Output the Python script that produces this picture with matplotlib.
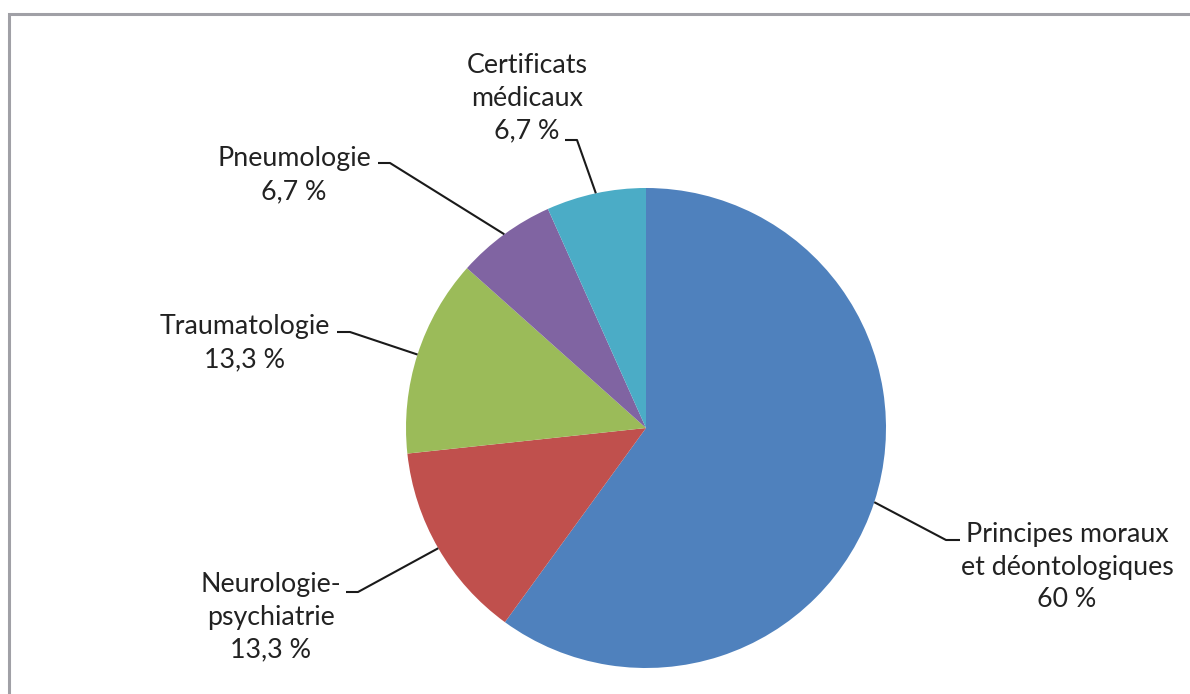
import numpy as np
import matplotlib
matplotlib.use("Agg")
import matplotlib.pyplot as plt
from matplotlib.patches import Rectangle

categories = ["Principes moraux\net déontologiques", "Neurologie-\npsychiatrie",
              "Traumatologie", "Pneumologie", "Certificats\nmédicaux"]
values = [60, 13.3, 13.3, 6.7, 6.7]
value_labels = ["60 %", "13,3 %", "13,3 %", "6,7 %", "6,7 %"]
colors = ["#4F81BD", "#C0504D", "#9BBB59", "#8064A2", "#4BACC6"]

W, H = 1190, 694
fig = plt.figure(figsize=(W / 100, H / 100), dpi=100)
ax = fig.add_axes([0, 0, 1, 1])

# frame
ax.add_patch(Rectangle((8.5, -20), W + 40, H - 13.5 + 20, fill=False,
                       edgecolor="#A0A0A6", linewidth=2.2, zorder=0))

cx, cy, R = 646, H - 428, 240
wedges, _ = ax.pie(values, colors=colors, startangle=90, counterclock=False,
                   center=(cx, cy), radius=R, frame=True,
                   wedgeprops=dict(linewidth=0))
ax.set_xlim(0, W)
ax.set_ylim(0, H)
ax.set_aspect("equal")
ax.axis("off")

# label layout: (text center x, text center y from top, elbow point, end point)
layout = [
    (1067, 567, (946, 540), (960, 540)),
    (271, 617, (358, 592), (346, 592)),
    (245, 343, (350, 332), (337, 332)),
    (294, 175, (390, 163), (378, 163)),
    (527, 98, (577, 140), (565, 140)),
]
font = "Lato"
for w, cat, vl, (tx, ty, p_elbow, p_end) in zip(wedges, categories, value_labels, layout):
    mid = np.deg2rad((w.theta1 + w.theta2) / 2)
    ex, ey = cx + R * np.cos(mid), cy + R * np.sin(mid)
    xs = [ex, p_elbow[0], p_end[0]]
    ys = [ey, H - p_elbow[1], H - p_end[1]]
    ax.plot(xs, ys, color="#1a1a1a", linewidth=1.5, solid_capstyle="butt", zorder=3)
    ax.text(tx, H - ty, cat + "\n" + vl, ha="center", va="center",
            fontsize=19.3, family=font, color="#222222", linespacing=1.39)

fig.savefig("out.png", dpi=100)
